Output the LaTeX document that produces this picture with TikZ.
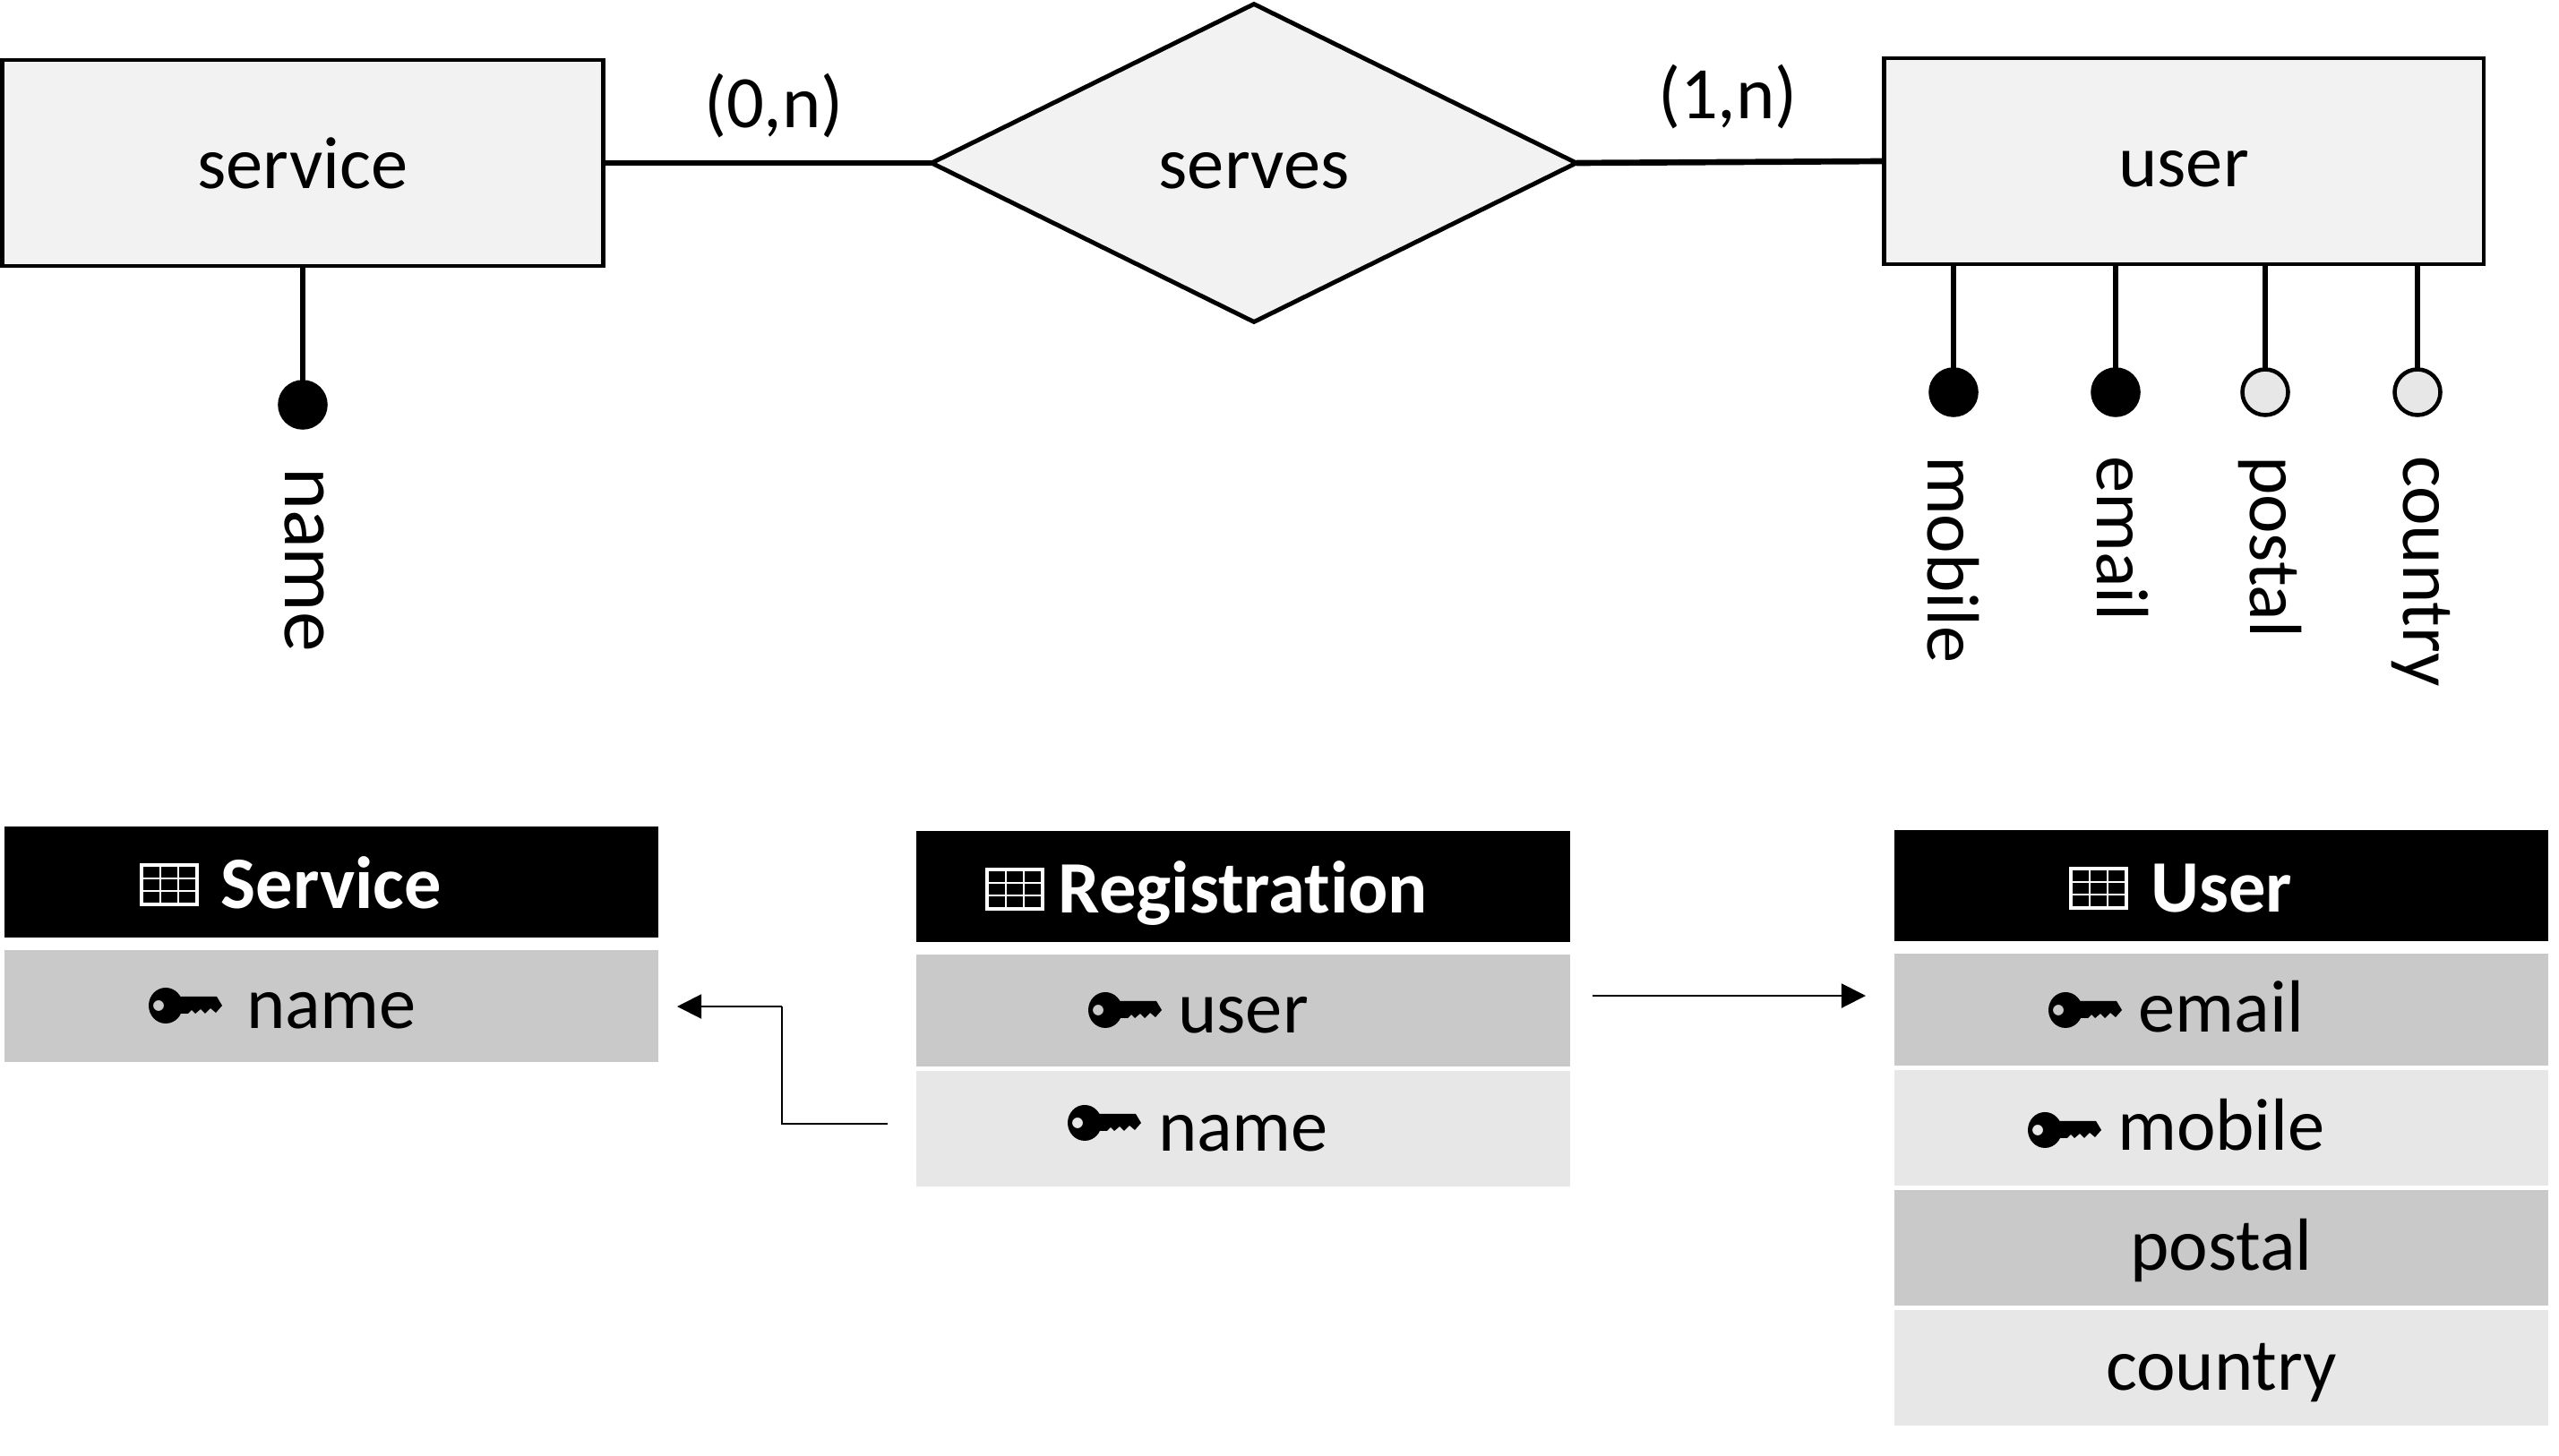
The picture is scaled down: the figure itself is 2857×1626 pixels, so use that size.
\documentclass[tikz,border=0pt]{standalone}
\usepackage{fontspec}
\setmainfont{Carlito}[Ligatures=CommonOff]
\usetikzlibrary{positioning, arrows.meta, shapes.geometric, calc}

\definecolor{boxfill}{HTML}{F2F2F2}
\definecolor{rowdark}{HTML}{C9C9C9}
\definecolor{rowlight}{HTML}{E7E7E7}

\tikzset{
    keyglyph/.pic={
        \fill[black, even odd rule] (19,0) ellipse [x radius=19, y radius=20] (11,0) ellipse [x radius=6, y radius=6];
        \fill[black] (34,-10) -- (76,-10) -- (82,0) -- (75,8) -- (69,3) -- (63,9) -- (58,4) -- (52,9) -- (48,5) -- (44,9) -- (34,9) -- cycle;
    },
    gridglyph/.pic={
        \draw[white, line width=2.2pt] (-31,-22) rectangle (31,22);
        \draw[white, line width=1.6pt] (-31,-7) -- (31,-7) (-31,7) -- (31,7) (-10,-22) -- (-10,22) (10,-22) -- (10,22);
    }
}

\begin{document}
\begin{tikzpicture}[
        x=0.02cm, y=-0.02cm,
        every node/.style={inner sep=0pt, outer sep=0pt, font=\fontsize{47}{50}\selectfont},
        erbox/.style={draw, line width=2.8pt, fill=boxfill, minimum height=4.6cm, text height=32.5pt, text depth=0pt},
        erdiamond/.style={diamond, draw, line width=2.8pt, fill=boxfill, minimum width=14.4cm, minimum height=7.1cm, text height=32.5pt, text depth=0pt},
        keydot/.style={circle, draw, line width=2.6pt, fill=black, minimum size=1.02cm},
        plaindot/.style={circle, draw, line width=2.6pt, fill=rowlight, minimum size=1.02cm},
        attrlabel/.style={rotate=-90, anchor=base west},
        erline/.style={line width=3.8pt},
        tablehead/.style={fill=black, text=white, minimum width=14.62cm, minimum height=2.5cm, text height=33pt, text depth=0pt, font=\fontsize{47}{50}\selectfont\bfseries},
        tablerow/.style={minimum width=14.62cm, minimum height=2.58cm, text height=28pt, text depth=0pt},
        firstrow/.style={tablerow, minimum height=2.5cm, fill=rowdark},
        fkline/.style={line width=1.1pt},
        fkarrow/.style={fkline, -{Triangle[length=15.5pt, width=15.5pt]}}
    ]
    \useasboundingbox (0,0) rectangle (2857,1626);

    % Entities
    \node (service) [erbox, minimum width=13.44cm] at (338,182) {service};
    \node (serves) [erdiamond] at (1400,182) {serves};
    \node (user) [erbox, minimum width=13.4cm] at (2438,180) {user};
    \node (zeron) [anchor=base] at (864,142) {(0,n)};
    \node (onen) [anchor=base] at (1929,132) {(1,n)};

    % Attributes
    \node (namedot) [keydot] at (338,452) {};
    \node (mobiledot) [keydot] at (2181,438) {};
    \node (emaildot) [keydot] at (2362,438) {};
    \node (postaldot) [plaindot] at (2529,438) {};
    \node (countrydot) [plaindot] at (2699,438) {};
    \node (nametxt) [attrlabel, font=\fontsize{51}{52}\selectfont] at (318,522) {name};
    \node (mobiletxt) [attrlabel] at (2152,509) {mobile};
    \node (emailtxt) [attrlabel] at (2341,509) {email};
    \node (postaltxt) [attrlabel] at (2512,509) {postal};
    \node (countrytxt) [attrlabel] at (2683,509) {country};

    % Tables
    \node (svchead) [tablehead] at (370,985) {Service};
    \node (svcname) [firstrow, below=0.28cm of svchead] {name};

    \node (reghead) [tablehead] at (1388,990) {Registration};
    \node (reguser) [firstrow, below=0.28cm of reghead] {user};
    \node (regname) [tablerow, fill=rowlight, below=0.1cm of reguser] {name};

    \node (usrhead) [tablehead] at (2480,989) {User};
    \node (usremail) [firstrow, below=0.28cm of usrhead] {email};
    \node (usrmobile) [tablerow, fill=rowlight, below=0.1cm of usremail] {mobile};
    \node (usrpostal) [tablerow, fill=rowdark, below=0.1cm of usrmobile] {postal};
    \node (usrcountry) [tablerow, fill=rowlight, below=0.1cm of usrpostal] {country};

    % Icons
    \pic at ($(svchead)+(-181,3)$) {gridglyph};
    \pic at ($(reghead)+(-255,3)$) {gridglyph};
    \pic at ($(usrhead)+(-137,3)$) {gridglyph};
    \pic at ($(svcname)+(-204,-1)$) {keyglyph};
    \pic at ($(reguser)+(-173,-1)$) {keyglyph};
    \pic at ($(regname)+(-196,-7)$) {keyglyph};
    \pic at ($(usremail)+(-193,0)$) {keyglyph};
    \pic at ($(usrmobile)+(-216,2)$) {keyglyph};

    % Connectors
    \draw[erline] (service.east |- serves.west) -- (serves.west);
    \draw[erline] (serves.east) -- (user.west);
    \draw[erline] (namedot |- service.south) -- (namedot);
    \draw[erline] (mobiledot |- user.south) -- (mobiledot);
    \draw[erline] (emaildot |- user.south) -- (emaildot);
    \draw[erline] (postaldot |- user.south) -- (postaldot);
    \draw[erline] (countrydot |- user.south) -- (countrydot);

    % Foreign keys
    \coordinate (regfk) at (991,1255);
    \coordinate (bend) at (873,1124);
    \coordinate (svcfk) at (756,1124);
    \coordinate (usrfkstart) at (1778,1112);
    \coordinate (usrfkend) at (2083,1112);
    \draw[fkline] (regfk) -| (bend);
    \draw[fkarrow] (bend) -- (svcfk);
    \draw[fkarrow] (usrfkstart) -- (usrfkend);

\end{tikzpicture}
\end{document}
